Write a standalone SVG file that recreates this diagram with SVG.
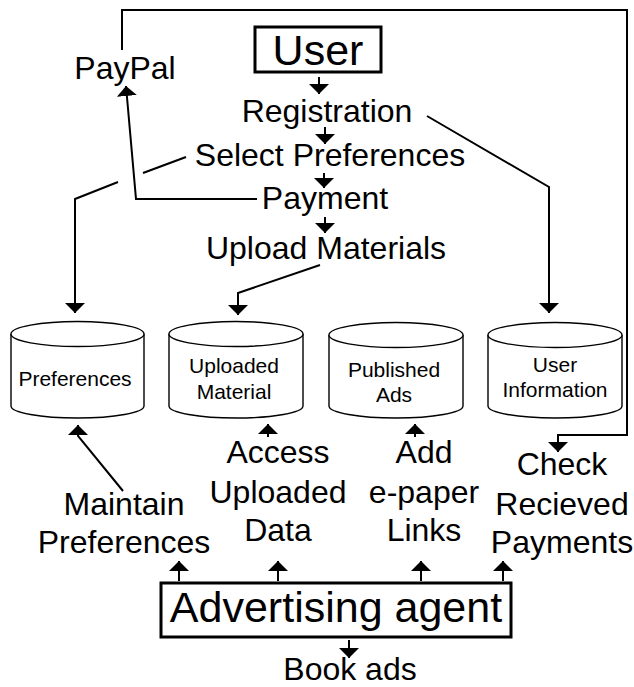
<svg xmlns="http://www.w3.org/2000/svg" width="634" height="687" viewBox="0 0 634 687">
  <style>
    text { font-family: "Liberation Sans", Arial, sans-serif; fill: #000; text-anchor: middle; }
    .big { font-size: 43px; }
    .lbl { font-size: 32px; }
    .db { font-size: 21px; }
    .box { fill: #fff; stroke: #000; stroke-width: 3; }
    .cyl { fill: #fff; stroke: #000; stroke-width: 1.4; }
    .edge { fill: none; stroke: #000; stroke-width: 2; marker-end: url(#arrow); }
    .plain { fill: none; stroke: #000; stroke-width: 2; }
  </style>
  <defs>
    <marker id="arrow" viewBox="0 0 10 20" markerUnits="userSpaceOnUse" markerWidth="10" markerHeight="20" refX="10" refY="10" orient="auto">
      <path d="M0,0 L10,10 L0,20 Z" fill="#000"/>
    </marker>
  </defs>

  <rect width="634" height="687" fill="#fff"/>

  <!-- connectors -->
  <g id="connectors">
    <path class="edge" d="M319,77 L319,94"/>
    <path class="edge" d="M325,127 L325,144"/>
    <path class="edge" d="M324,173 L324,188"/>
    <path class="edge" d="M325,217 L325,233"/>
    <!-- Payment to PayPal -->
    <path class="edge" d="M257,199 L136,199 L126,86"/>
    <!-- Select Preferences to Preferences store (broken where it crosses) -->
    <path class="plain" d="M186,157 L143,173"/>
    <path class="edge" d="M118,182 L75,199 L75,313"/>
    <!-- Registration to User Information -->
    <path class="edge" d="M427,116 L549,187 L549,313"/>
    <!-- Upload Materials to Uploaded Material -->
    <path class="edge" d="M320,265 L238,293 L238,315"/>
    <!-- PayPal loop to Check Recieved Payments -->
    <path class="edge" d="M122,50 L122,10 L627,10 L627,435 L558,435 L558,452"/>
    <!-- agent side -->
    <path class="edge" d="M123,491 L78,436 L78,425"/>
    <path class="edge" d="M268,437 L268,424"/>
    <path class="edge" d="M415,437 L415,424"/>
    <path class="edge" d="M179,581 L179,561"/>
    <path class="edge" d="M278,581 L278,561"/>
    <path class="edge" d="M421,581 L421,561"/>
    <path class="edge" d="M503,581 L503,561"/>
    <path class="edge" d="M349,640 L349,658"/>
  </g>

  <g id="user">
    <rect class="box" x="255" y="27" width="126" height="45"/>
    <text class="big" x="318" y="65">User</text>
  </g>
  <g id="paypal"><text class="lbl" x="125" y="79">PayPal</text></g>
  <g id="registration"><text class="lbl" x="327" y="122">Registration</text></g>
  <g id="select-preferences"><text class="lbl" x="330" y="166">Select Preferences</text></g>
  <g id="payment"><text class="lbl" x="325" y="209">Payment</text></g>
  <g id="upload-materials"><text class="lbl" x="326" y="259">Upload Materials</text></g>

  <!-- data stores -->
  <g id="store-preferences">
    <path class="cyl" d="M11,334 L11,406 A66.5,12 0 0 0 144,406 L144,334"/>
    <ellipse class="cyl" cx="77.5" cy="334" rx="66.5" ry="12.5"/>
    <text class="db" x="75" y="386">Preferences</text>
  </g>
  <g id="store-uploaded">
    <path class="cyl" d="M169,334 L169,406 A67,12 0 0 0 303,406 L303,334"/>
    <ellipse class="cyl" cx="236" cy="334" rx="67" ry="12.5"/>
    <text class="db" x="234" y="373">Uploaded</text>
    <text class="db" x="234" y="399">Material</text>
  </g>
  <g id="store-published">
    <path class="cyl" d="M329,335 L329,406 A67,12 0 0 0 463,406 L463,335"/>
    <ellipse class="cyl" cx="396" cy="335" rx="67" ry="12.5"/>
    <text class="db" x="394" y="377">Published</text>
    <text class="db" x="394" y="402">Ads</text>
  </g>
  <g id="store-user-info">
    <path class="cyl" d="M488,335 L488,406 A67,12 0 0 0 622,406 L622,335"/>
    <ellipse class="cyl" cx="555" cy="335" rx="67" ry="12.5"/>
    <text class="db" x="555" y="372">User</text>
    <text class="db" x="555" y="397">Information</text>
  </g>

  <g id="maintain-preferences">
    <text class="lbl" x="124" y="515">Maintain</text>
    <text class="lbl" x="124" y="553">Preferences</text>
  </g>
  <g id="access-data">
    <text class="lbl" x="278" y="463">Access</text>
    <text class="lbl" x="278" y="503">Uploaded</text>
    <text class="lbl" x="278" y="541">Data</text>
  </g>
  <g id="add-links">
    <text class="lbl" x="424" y="463">Add</text>
    <text class="lbl" x="424" y="503">e-paper</text>
    <text class="lbl" x="424" y="541">Links</text>
  </g>
  <g id="check-payments">
    <text class="lbl" x="562" y="475">Check</text>
    <text class="lbl" x="562" y="515">Recieved</text>
    <text class="lbl" x="562" y="553">Payments</text>
  </g>

  <g id="advertising-agent">
    <rect class="box" x="161" y="583" width="350" height="54"/>
    <text class="big" x="336" y="622">Advertising agent</text>
  </g>
  <g id="book-ads"><text class="lbl" x="350" y="680">Book ads</text></g>
</svg>
